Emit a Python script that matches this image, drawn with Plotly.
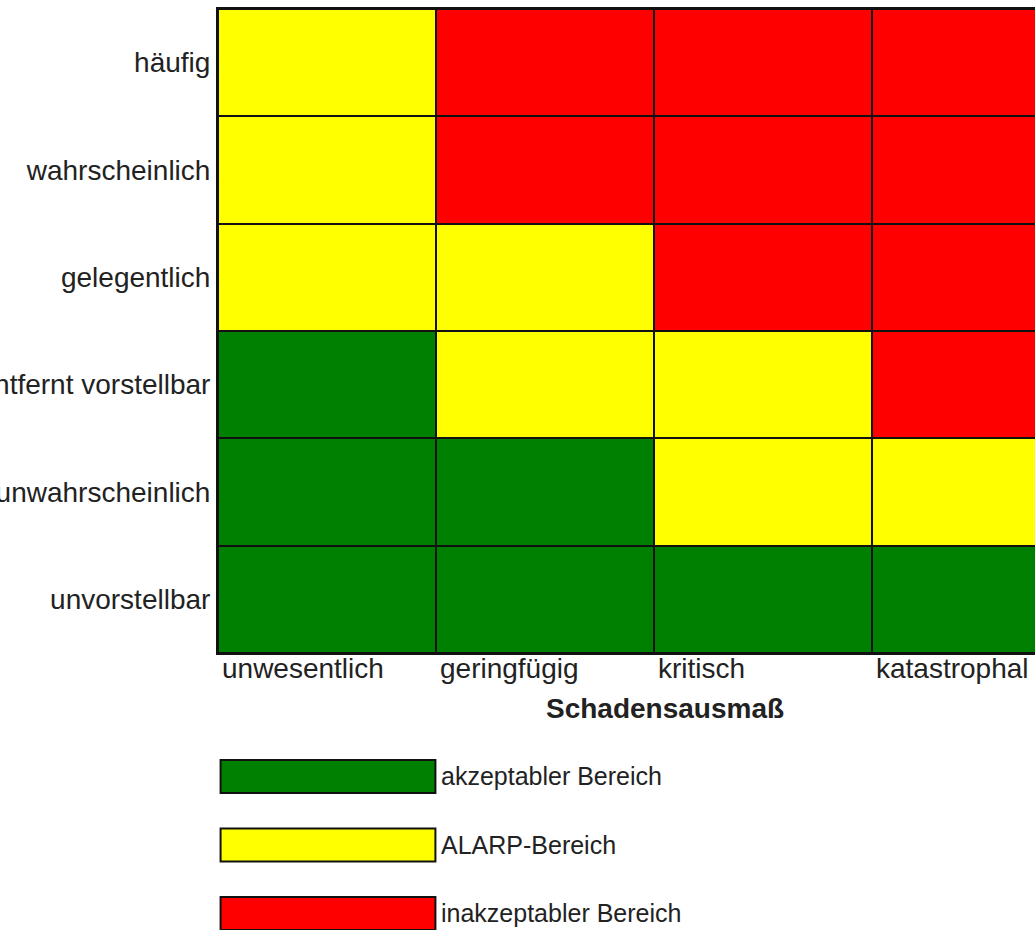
import plotly.graph_objects as go

# --- data ---
severity = ["unwesentlich", "geringfügig", "kritisch", "katastrophal"]
likelihood = ["häufig", "wahrscheinlich", "gelegentlich", "entfernt vorstellbar",
              "unwahrscheinlich", "unvorstellbar"]
# 0 = akzeptabel, 1 = ALARP, 2 = inakzeptabel
risk = [
    [1, 2, 2, 2],
    [1, 2, 2, 2],
    [1, 1, 2, 2],
    [0, 1, 1, 2],
    [0, 0, 1, 1],
    [0, 0, 0, 0],
]
legend_labels = ["akzeptabler Bereich", "ALARP-Bereich", "inakzeptabler Bereich"]
legend_values = [0, 1, 2]
x_title = "Schadensausmaß"

colors = ["#008000", "#ffff00", "#ff0000"]
LINE = "#111111"
FONT = "Liberation Sans, Arial, sans-serif"
TXT = "#222222"

W, H = 1035, 930
ML, MT = 218, 9
PW, PH = W - ML, H - MT

def py(p):  # page pixel y -> paper y
    return (H - p) / PH

def px(p):
    return (p - ML) / PW

fig = go.Figure()

fig.add_trace(go.Heatmap(
    z=risk,
    x=list(range(len(severity))),
    y=list(range(len(likelihood))),
    colorscale=[[0, colors[0]], [1/3, colors[0]], [1/3, colors[1]],
                [2/3, colors[1]], [2/3, colors[2]], [1, colors[2]]],
    zmin=-0.5, zmax=2.5, showscale=False, xgap=2, ygap=2,
    hoverinfo="skip",
    xaxis="x", yaxis="y",
))

fig.add_trace(go.Bar(
    x=[1] * len(legend_labels), y=legend_labels, base=0,
    orientation="h", width=0.48,
    marker=dict(color=[colors[v] for v in legend_values],
                line=dict(color=LINE, width=2)),
    xaxis="x2", yaxis="y2", hoverinfo="skip", showlegend=False,
))

annotations = []
for i, s in enumerate(severity):
    annotations.append(dict(
        x=i - 0.5, xref="x", y=py(668), yref="paper", text=s,
        xanchor="left", yanchor="middle", showarrow=False,
        font=dict(family=FONT, size=28, color=TXT), xshift=2))
annotations.append(dict(
    x=px(665), xref="paper", y=py(708), yref="paper", text="<b>" + x_title + "</b>",
    xanchor="center", yanchor="middle", showarrow=False,
    font=dict(family=FONT, size=28, color=TXT)))

shapes = [dict(type="rect", xref="x domain", yref="y domain", x0=0, x1=1, y0=0, y1=1,
               fillcolor=LINE, line=dict(width=0), layer="below")]

fig.update_layout(
    width=W, height=H,
    margin=dict(l=ML, r=0, t=MT, b=0, autoexpand=False),
    paper_bgcolor="white", plot_bgcolor="white",
    showlegend=False,
    annotations=annotations,
    shapes=shapes,
    xaxis=dict(domain=[0, 1], range=[-0.5, 3.248], showticklabels=False,
               showgrid=False, zeroline=False, showline=True, linecolor=LINE,
               linewidth=2, mirror=True, anchor="y", automargin=False),
    yaxis=dict(domain=[py(653), 1], range=[5.5, -0.5],
               tickvals=list(range(len(likelihood))), ticktext=likelihood,
               tickfont=dict(family=FONT, size=28, color=TXT),
               ticks="", ticklabelstandoff=0, automargin=False,
               showgrid=False, zeroline=False, showline=True, linecolor=LINE,
               linewidth=2, anchor="x"),
    xaxis2=dict(domain=[0, px(438)], range=[-0.012, 1.012], visible=False,
                anchor="y2", automargin=False),
    yaxis2=dict(domain=[0, py(742.25)], range=[2.241, -0.5],
                categoryorder="array", categoryarray=legend_labels,
                side="right", anchor="x2", ticks="", ticklabelstandoff=2,
                automargin=False,
                tickfont=dict(family=FONT, size=25, color=TXT),
                showgrid=False, zeroline=False, showline=False),
)
fig.write_html("out.html", config={"displayModeBar": False},
               post_script="document.body.style.margin='0';document.body.style.overflow='hidden';")
